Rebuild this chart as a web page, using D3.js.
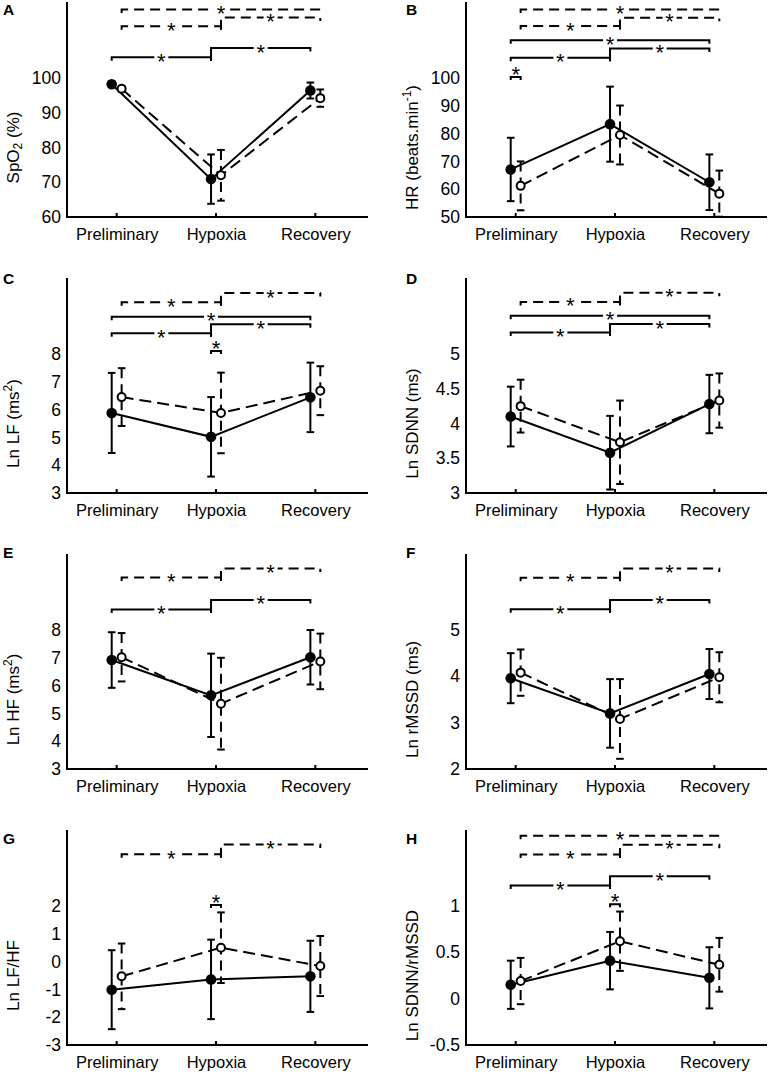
<!DOCTYPE html>
<html><head><meta charset="utf-8">
<script src="https://cdn.jsdelivr.net/npm/d3@7"></script>
<style>
body{margin:0;background:#fff}
text{font-family:"Liberation Sans",Arial,Helvetica,sans-serif;fill:#000}
</style>
</head><body>
<svg id="c" width="768" height="1076"></svg>
<script>
// ---------------- DATA ----------------
const categories = ["Preliminary", "Hypoxia", "Recovery"];
const panelLetters = ["A", "B", "C", "D", "E", "F", "G", "H"];

// A: SpO2 (%)
const spo2Ticks = [60, 70, 80, 90, 100];
const spo2Filled = [98.2, 70.9, 96.4], spo2FilledSD = [0.8, 7.1, 2.3];
const spo2Open = [96.9, 72.0, 94.2], spo2OpenSD = [0.8, 7.3, 2.5];
// B: HR
const hrTicks = [50, 60, 70, 80, 90, 100];
const hrFilled = [67.1, 83.4, 62.5], hrFilledSD = [11.4, 13.5, 10.0];
const hrOpen = [61.2, 79.5, 58.4], hrOpenSD = [8.8, 10.6, 8.3];
// C: Ln LF
const lfTicks = [3, 4, 5, 6, 7, 8];
const lfFilled = [5.88, 5.02, 6.44], lfFilledSD = [1.44, 1.43, 1.25];
const lfOpen = [6.45, 5.88, 6.68], lfOpenSD = [1.04, 1.45, 0.88];
// D: Ln SDNN
const sdnnTicks = [3, 3.5, 4, 4.5, 5];
const sdnnFilled = [4.10, 3.58, 4.28], sdnnFilledSD = [0.43, 0.53, 0.42];
const sdnnOpen = [4.25, 3.73, 4.33], sdnnOpenSD = [0.38, 0.60, 0.39];
// E: Ln HF
const hfTicks = [3, 4, 5, 6, 7, 8];
const hfFilled = [6.92, 5.65, 7.02], hfFilledSD = [1.0, 1.5, 0.98];
const hfOpen = [7.02, 5.35, 6.87], hfOpenSD = [0.87, 1.65, 1.0];
// F: Ln rMSSD
const rmssdTicks = [2, 3, 4, 5];
const rmssdFilled = [3.96, 3.20, 4.05], rmssdFilledSD = [0.54, 0.74, 0.54];
const rmssdOpen = [4.08, 3.08, 3.98], rmssdOpenSD = [0.50, 0.86, 0.54];
// G: Ln LF/HF
const lfhfTicks = [-3, -2, -1, 0, 1, 2];
const lfhfFilled = [-1.01, -0.64, -0.53], lfhfFilledSD = [1.42, 1.43, 1.28];
const lfhfOpen = [-0.53, 0.50, -0.16], lfhfOpenSD = [1.18, 1.27, 1.08];
// H: Ln SDNN/rMSSD
const ratioTicks = [-0.5, 0, 0.5, 1];
const ratioFilled = [0.15, 0.41, 0.225], ratioFilledSD = [0.26, 0.31, 0.33];
const ratioOpen = [0.19, 0.62, 0.366], ratioOpenSD = [0.25, 0.32, 0.29];

// significance brackets: style (solid = filled group, dashed = open group, pair = between groups), category indices, level in data units
const spo2Sig = [
  {style: "dashed", from: 0, to: 2, level: 119.7},
  {style: "dashed", from: 1, to: 2, level: 117.4},
  {style: "dashed", from: 0, to: 1, level: 114.9},
  {style: "solid", from: 1, to: 2, level: 108.6},
  {style: "solid", from: 0, to: 1, level: 106.0}];
const hrSig = [
  {style: "dashed", from: 0, to: 2, level: 124.6},
  {style: "dashed", from: 1, to: 2, level: 121.7},
  {style: "dashed", from: 0, to: 1, level: 118.7},
  {style: "solid", from: 0, to: 2, level: 113.6},
  {style: "solid", from: 1, to: 2, level: 110.6},
  {style: "solid", from: 0, to: 1, level: 107.3},
  {style: "pair", at: 0, level: 100.4}];
const lfSig = [
  {style: "dashed", from: 1, to: 2, level: 10.19},
  {style: "dashed", from: 0, to: 1, level: 9.86},
  {style: "solid", from: 0, to: 2, level: 9.34},
  {style: "solid", from: 1, to: 2, level: 9.07},
  {style: "solid", from: 0, to: 1, level: 8.75},
  {style: "pair", at: 1, level: 8.11}];
const sdnnSig = [
  {style: "dashed", from: 1, to: 2, level: 5.88},
  {style: "dashed", from: 0, to: 1, level: 5.75},
  {style: "solid", from: 0, to: 2, level: 5.55},
  {style: "solid", from: 1, to: 2, level: 5.43},
  {style: "solid", from: 0, to: 1, level: 5.31}];
const hfSig = [
  {style: "dashed", from: 1, to: 2, level: 10.21},
  {style: "dashed", from: 0, to: 1, level: 9.89},
  {style: "solid", from: 1, to: 2, level: 9.08},
  {style: "solid", from: 0, to: 1, level: 8.74}];
const rmssdSig = [
  {style: "dashed", from: 1, to: 2, level: 6.33},
  {style: "dashed", from: 0, to: 1, level: 6.13},
  {style: "solid", from: 1, to: 2, level: 5.65},
  {style: "solid", from: 0, to: 1, level: 5.45}];
const lfhfSig = [
  {style: "dashed", from: 1, to: 2, level: 4.21},
  {style: "dashed", from: 0, to: 1, level: 3.86},
  {style: "pair", at: 1, level: 2.04}];
const ratioSig = [
  {style: "dashed", from: 0, to: 2, level: 1.757},
  {style: "dashed", from: 1, to: 2, level: 1.66},
  {style: "dashed", from: 0, to: 1, level: 1.555},
  {style: "solid", from: 1, to: 2, level: 1.32},
  {style: "solid", from: 0, to: 1, level: 1.22},
  {style: "pair", at: 1, level: 1.02}];

// y-axis labels (pieces: [text, kind])
const labelA = [["SpO", ""], ["2", "sub"], [" (%)", ""]];
const labelB = [["HR (beats.min", ""], ["-1", "sup"], [")", ""]];
const labelC = [["Ln LF (ms", ""], ["2", "sup"], [")", ""]];
const labelD = [["Ln SDNN (ms)", ""]];
const labelE = [["Ln HF (ms", ""], ["2", "sup"], [")", ""]];
const labelF = [["Ln rMSSD (ms)", ""]];
const labelG = [["Ln LF/HF", ""]];
const labelH = [["Ln SDNN/rMSSD", ""]];

const panels = [
  {ticks: spo2Ticks, f: spo2Filled, fsd: spo2FilledSD, o: spo2Open, osd: spo2OpenSD, sig: spo2Sig, label: labelA},
  {ticks: hrTicks, f: hrFilled, fsd: hrFilledSD, o: hrOpen, osd: hrOpenSD, sig: hrSig, label: labelB},
  {ticks: lfTicks, f: lfFilled, fsd: lfFilledSD, o: lfOpen, osd: lfOpenSD, sig: lfSig, label: labelC},
  {ticks: sdnnTicks, f: sdnnFilled, fsd: sdnnFilledSD, o: sdnnOpen, osd: sdnnOpenSD, sig: sdnnSig, label: labelD},
  {ticks: hfTicks, f: hfFilled, fsd: hfFilledSD, o: hfOpen, osd: hfOpenSD, sig: hfSig, label: labelE},
  {ticks: rmssdTicks, f: rmssdFilled, fsd: rmssdFilledSD, o: rmssdOpen, osd: rmssdOpenSD, sig: rmssdSig, label: labelF},
  {ticks: lfhfTicks, f: lfhfFilled, fsd: lfhfFilledSD, o: lfhfOpen, osd: lfhfOpenSD, sig: lfhfSig, label: labelG},
  {ticks: ratioTicks, f: ratioFilled, fsd: ratioFilledSD, o: ratioOpen, osd: ratioOpenSD, sig: ratioSig, label: labelH}
];

// ---------------- LAYOUT ----------------
const colX = [67, 466];
const rowBottom = [217, 493, 769, 1045];
const letterBaseline = [15, 284, 558, 844];
const letterX = [3, 406];
const plotH = 214, tickSpan = 139, plotW = 298, axisLen = 300;
const groupOffset = 0.05;
const legLen = 3.5;
const SW = 2;
const starSize = 22;

const svg = d3.select("#c");

panels.forEach((p, i) => {
  const col = i % 2, row = Math.floor(i / 2);
  const ax = colX[col], by = rowBottom[row];
  const yMin = p.ticks[0], yMaxTick = p.ticks[p.ticks.length - 1];
  const yTop = yMin + (yMaxTick - yMin) * plotH / tickSpan;
  const x = d3.scaleLinear().domain([0.5, 3.5]).range([ax, ax + plotW]);
  const y = d3.scaleLinear().domain([yMin, yTop]).range([by, by - plotH]);
  const g = svg.append("g");

  // panel letter
  g.append("text").attr("x", letterX[col]).attr("y", letterBaseline[row])
    .attr("font-size", 15.5).attr("font-weight", "bold").text(panelLetters[i]);

  // axes
  const yAxis = d3.axisLeft(y).tickValues(p.ticks).tickSize(0).tickPadding(6).tickFormat(d => String(d));
  const ya = g.append("g").attr("transform", `translate(${ax},0)`).call(yAxis);
  ya.select(".domain").remove();
  ya.selectAll("text").attr("font-size", 17.5).attr("font-family", null);

  const xAxis = d3.axisBottom(x).tickValues([1, 2, 3]).tickSize(0).tickPadding(11).tickFormat(d => categories[d - 1]);
  const xa = g.append("g").attr("transform", `translate(0,${by})`).call(xAxis);
  xa.select(".domain").remove();
  xa.selectAll("text").attr("font-size", 16.5).attr("font-family", null);

  // inner tick marks on x axis
  g.selectAll(null).data([1, 2, 3]).enter().append("line")
    .attr("x1", d => x(d)).attr("x2", d => x(d))
    .attr("y1", by).attr("y2", by - 4).attr("stroke", "#000").attr("stroke-width", SW);

  g.append("path")
    .attr("d", `M${ax},${by - plotH}V${by}H${ax + axisLen}`)
    .attr("fill", "none").attr("stroke", "#000").attr("stroke-width", SW).attr("stroke-linecap", "square");

  // y label
  const tickMid = (y(yMin) + y(yMaxTick)) / 2;
  const lab = g.append("text")
    .attr("transform", `translate(${ax - 48},${tickMid}) rotate(-90)`)
    .attr("text-anchor", "middle").attr("font-size", 17);
  p.label.forEach(([t, kind]) => {
    const ts = lab.append("tspan").text(t);
    if (kind === "sub") ts.attr("font-size", 12).attr("baseline-shift", "-25%");
    if (kind === "sup") ts.attr("font-size", 12).attr("baseline-shift", "60%");
  });

  // series
  const groups = [
    {m: p.f, sd: p.fsd, off: -groupOffset, dash: null, fill: "#000"},
    {m: p.o, sd: p.osd, off: groupOffset, dash: "10,6", fill: "#fff"}
  ];
  // error bars
  groups.forEach(gr => {
    gr.m.forEach((v, k) => {
      const cx = x(k + 1 + gr.off);
      const t = y(v + gr.sd[k]), b = y(v - gr.sd[k]);
      g.append("line").attr("x1", cx).attr("x2", cx).attr("y1", t).attr("y2", b)
        .attr("stroke", "#000").attr("stroke-width", SW).attr("stroke-dasharray", gr.dash);
      [t, b].forEach(yy => g.append("line").attr("x1", cx - 3.8).attr("x2", cx + 3.8)
        .attr("y1", yy).attr("y2", yy).attr("stroke", "#000").attr("stroke-width", SW));
    });
  });
  // lines
  groups.forEach(gr => {
    const line = d3.line().x((v, k) => x(k + 1 + gr.off)).y(v => y(v));
    g.append("path").attr("d", line(gr.m)).attr("fill", "none").attr("stroke", "#000")
      .attr("stroke-width", SW).attr("stroke-dasharray", gr.dash ? "12,6" : null);
  });
  // markers
  groups.forEach((gr, gi) => {
    g.selectAll(null).data(gr.m).enter().append("circle")
      .attr("cx", (v, k) => x(k + 1 + gr.off)).attr("cy", v => y(v))
      .attr("r", gi === 0 ? 5.3 : 4)
      .attr("fill", gr.fill).attr("stroke", "#000").attr("stroke-width", gi === 0 ? 0 : 2);
  });

  // significance brackets
  p.sig.forEach(s => {
    if (s.style === "pair") {
      const x1 = x(s.at + 1 - groupOffset), x2 = x(s.at + 1 + groupOffset), yy = y(s.level);
      g.append("path").attr("d", `M${x1},${yy + 3}V${yy}H${x2}V${yy + 3}`)
        .attr("fill", "none").attr("stroke", "#000").attr("stroke-width", SW);
      g.append("text").attr("x", (x1 + x2) / 2).attr("y", yy + 5).attr("text-anchor", "middle")
        .attr("font-size", starSize).text("*");
      return;
    }
    const off = s.style === "solid" ? -groupOffset : groupOffset;
    const x1 = x(s.from + 1 + off), x2 = x(s.to + 1 + off), yy = y(s.level);
    let leftBottom = yy + legLen;
    if (s.from === 1) {
      const prev = p.sig.find(q => q.style === s.style && q.from === 0 && q.to === 1);
      if (prev) leftBottom = y(prev.level) + legLen;
    }
    g.append("path").attr("d", `M${x1},${leftBottom}V${yy}H${x2}V${yy + legLen}`)
      .attr("fill", "none").attr("stroke", "#000").attr("stroke-width", SW)
      .attr("stroke-dasharray", s.style === "dashed" ? "10,6" : null);
    const mx = (x1 + x2) / 2;
    g.append("rect").attr("x", mx - 7).attr("y", yy - 3).attr("width", 14).attr("height", 6).attr("fill", "#fff");
    g.append("text").attr("x", mx).attr("y", yy + 11.5).attr("text-anchor", "middle")
      .attr("font-size", starSize).text("*");
  });
});
</script>
</body></html>
